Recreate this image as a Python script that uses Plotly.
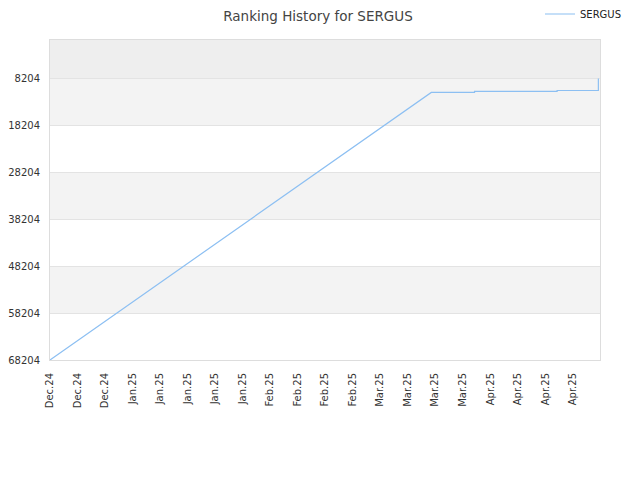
import plotly.graph_objects as go

dates = ["2024-12-11", "2025-03-18", "2025-03-29", "2025-03-29", "2025-04-19", "2025-04-19", "2025-04-29 12:00", "2025-04-29 12:00"]
ranks = [68204, 11180, 11180, 10970, 10970, 10760, 10760, 8204]
ytick_vals = [8204, 18204, 28204, 38204, 48204, 58204, 68204]
band_edges = [(0, 8204, "#eeeeee"), (8204, 18204, "#f3f3f3"), (28204, 38204, "#f3f3f3"), (48204, 58204, "#f3f3f3")]

fig = go.Figure()
fig.add_trace(go.Scatter(x=dates, y=ranks, mode="lines", name="SERGUS",
                         line=dict(color="#8cbff2", width=1.2)))

for y0, y1, c in band_edges:
    fig.add_shape(type="rect", xref="paper", yref="y", x0=0, x1=1, y0=y0, y1=y1,
                  fillcolor=c, line_width=0, layer="below")

fig.update_layout(
    width=640, height=480,
    margin=dict(l=42, r=48, t=32, b=128, autoexpand=False),
    paper_bgcolor="white", plot_bgcolor="white",
    font=dict(family="DejaVu Sans, Verdana, sans-serif", size=10, color="#333"),
    title=dict(text="Ranking History for SERGUS", x=310 / 640, xanchor="center", xref="container",
               y=1 - 8 / 480, yanchor="middle", yref="container",
               font=dict(size=13.5, color="#444")),
    showlegend=True,
    legend=dict(x=532 / 640, xanchor="left", xref="container", y=1 - 6 / 480, yanchor="middle",
                yref="container", orientation="h", font=dict(size=10, color="#222"),
                bgcolor="rgba(0,0,0,0)", itemwidth=30),
    xaxis=dict(type="date", range=["2024-12-11", "2025-04-29 22:00"], tick0="2024-12-11",
               dtick=7 * 86400000, tickformat="%b.%y", tickangle=-90, showgrid=False, automargin=False,
               ticklabelstandoff=8,
               showline=True, linecolor="#dddddd", mirror=True, ticks="", tickfont=dict(size=10, color="#333")),
    yaxis=dict(range=[68204, 0], tickvals=ytick_vals, ticktext=[str(v) for v in ytick_vals],
               showgrid=True, gridcolor="#e3e3e3", zeroline=False, automargin=False,
               ticklabelstandoff=7,
               showline=True, linecolor="#dddddd", mirror=True, ticks="", tickfont=dict(size=10, color="#333")),
)
fig.write_html("out.html")
